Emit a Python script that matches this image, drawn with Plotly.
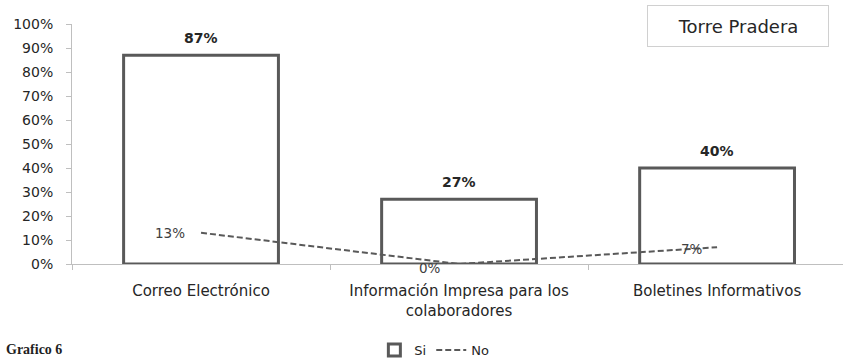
import plotly.graph_objects as go

# Survey results: communication channels, Torre Pradera
categories = ["Correo Electrónico", "Información Impresa para los<br>colaboradores", "Boletines Informativos"]
si_values = [0.87, 0.27, 0.40]
no_values = [0.13, 0.00, 0.07]
# pixel offsets of the "No" value labels relative to their points
no_label_shift = [(-31, 0), (-29, -4), (-25, -2)]
y_ticks = [i / 10 for i in range(11)]
y_tick_labels = [f"{i * 10}%" for i in range(11)]

dark = "#595959"
axis_grey = "#bfbfbf"
txt = "#262626"
sans = "DejaVu Sans, sans-serif"

fig = go.Figure()

fig.add_trace(go.Bar(
    x=categories,
    y=si_values,
    name="Si",
    width=0.6,
    marker=dict(color="white", line=dict(color=dark, width=3)),
))

fig.add_trace(go.Scatter(
    x=categories,
    y=no_values,
    name="No",
    mode="lines",
    line=dict(color=dark, width=2, dash="6px,3px"),
    cliponaxis=False,
))

annotations = []
for cat, v in zip(categories, si_values):
    annotations.append(dict(
        x=cat, y=v, xref="x", yref="y",
        text=f"<b>{round(v * 100)}%</b>",
        showarrow=False, xanchor="center", yanchor="middle", yshift=17,
        font=dict(family=sans, size=14, color=txt),
    ))
for cat, v, (dx, dy) in zip(categories, no_values, no_label_shift):
    annotations.append(dict(
        x=cat, y=v, xref="x", yref="y",
        text=f"{round(v * 100)}%",
        showarrow=False, xanchor="center", yanchor="middle",
        xshift=dx, yshift=dy,
        font=dict(family=sans, size=13.5, color="#404040"),
    ))
annotations.append(dict(
    text="Torre Pradera",
    xref="paper", yref="paper",
    x=(738 - 72) / 771, y=(264 - 26) / 240,
    xanchor="center", yanchor="middle",
    showarrow=False,
    font=dict(family=sans, size=18, color=txt),
    width=172, height=32,
    borderpad=4,
    bordercolor="#d0d0d0",
    borderwidth=1,
    bgcolor="white",
))
annotations.append(dict(
    text="<b>Grafico 6</b>",
    xref="paper", yref="paper",
    x=-68 / 771, y=-(359 - 264) / 240,
    xanchor="left", yanchor="bottom",
    showarrow=False,
    font=dict(family="Liberation Serif, serif", size=14, color="#1f1f1f"),
))

fig.update_layout(
    width=843,
    height=360,
    margin=dict(l=72, r=0, t=24, b=96, autoexpand=False),
    plot_bgcolor="white",
    paper_bgcolor="white",
    showlegend=True,
    legend=dict(
        orientation="h",
        x=0.47, xanchor="center",
        yref="container",
        y=10 / 360, yanchor="middle",
        font=dict(family=sans, size=13, color=txt),
        itemwidth=30,
    ),
    xaxis=dict(
        type="category",
        range=[-0.5, 2.488],
        automargin=False,
        showline=True,
        linecolor=axis_grey,
        linewidth=1,
        ticks="outside",
        tickson="boundaries",
        ticklen=5,
        tickcolor=axis_grey,
        tickfont=dict(family=sans, size=15, color=txt),
        ticklabelstandoff=13,
        showgrid=False,
    ),
    yaxis=dict(
        range=[0, 1],
        automargin=False,
        tickvals=y_ticks,
        ticktext=y_tick_labels,
        showline=True,
        linecolor=axis_grey,
        linewidth=1,
        ticks="outside",
        ticklen=5,
        tickcolor=axis_grey,
        tickfont=dict(family=sans, size=14, color=txt),
        ticklabelstandoff=10,
        showgrid=False,
        zeroline=False,
    ),
    annotations=annotations,
)

fig.write_html("out.html")
